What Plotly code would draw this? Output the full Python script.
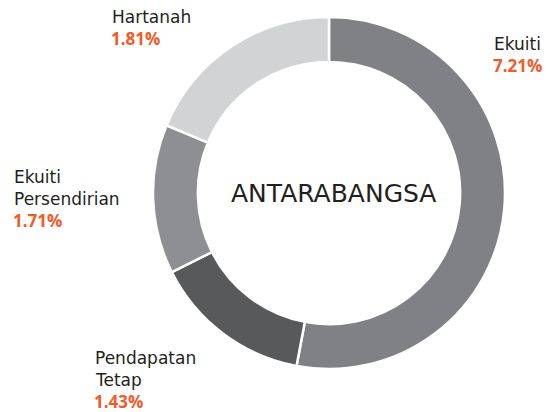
import plotly.graph_objects as go

categories = ["Ekuiti", "Pendapatan Tetap", "Ekuiti Persendirian", "Hartanah"]
label_lines = [["Ekuiti"], ["Pendapatan", "Tetap"], ["Ekuiti", "Persendirian"], ["Hartanah"]]
slice_share = [52.9, 14.6, 13.7, 18.7]
returns_pct = [7.21, 1.43, 1.71, 1.81]
centre_title = "ANTARABANGSA"

colors = ["#808184", "#58595b", "#8e8f92", "#d1d3d4"]
W, H = 550, 412
FONT = "DejaVu Sans"
PFONT = "Open Sans"
TEXT_COL = "#231f20"
ORANGE = "#f15a29"

fig = go.Figure(go.Pie(
    labels=categories, values=slice_share, sort=False, direction="clockwise",
    rotation=0, hole=0.745, textinfo="none", hoverinfo="label+percent",
    marker=dict(colors=colors, line=dict(color="white", width=2.5)),
    domain=dict(x=[153/W, 505/W], y=[1-369/H, 1-17/H]), showlegend=False,
))

# label anchors: (left x px, centre y px of first line)
anchors = [(492, 44), (93, 358), (12, 177), (110, 17)]
line_gap = 21.9
ann = []
for lines, val, (x0, y0) in zip(label_lines, returns_pct, anchors):
    for i, t in enumerate(lines):
        ann.append(dict(x=x0/W, y=1-(y0+i*line_gap)/H, xref="paper", yref="paper",
                        text=t, showarrow=False, xanchor="left", yanchor="middle",
                        font=dict(family=FONT, size=17, color=TEXT_COL)))
    ann.append(dict(x=x0/W, y=1-(y0+len(lines)*line_gap)/H, xref="paper", yref="paper",
                    text=f"<b>{val:.2f}%</b>", showarrow=False, xanchor="left", yanchor="middle",
                    borderpad=0, font=dict(family=PFONT, size=17, color=ORANGE)))
ann.append(dict(x=333/W, y=1-193/H, xref="paper", yref="paper", text=centre_title,
                showarrow=False, xanchor="center", yanchor="middle",
                font=dict(family=FONT, size=25, color=TEXT_COL)))

fig.update_layout(width=W, height=H, margin=dict(l=0, r=0, t=0, b=0),
                  paper_bgcolor="white", plot_bgcolor="white", annotations=ann)
fig.write_html("out.html", config={"displayModeBar": False},
               post_script="document.body.style.margin='0';")
